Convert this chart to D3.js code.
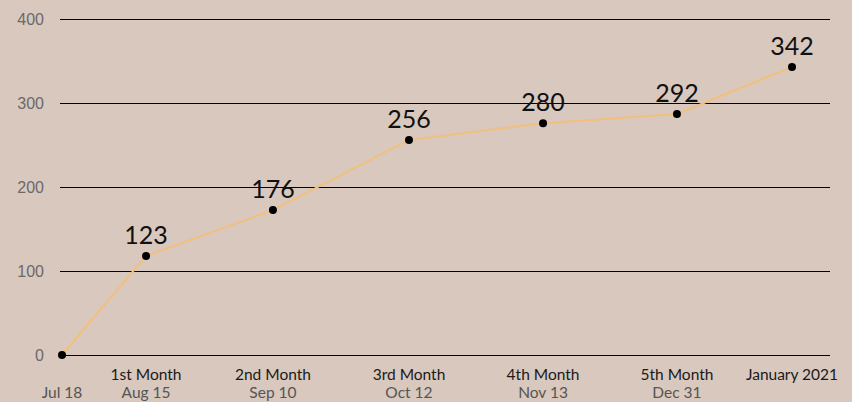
<!DOCTYPE html>
<html>
<head>
<meta charset="utf-8">
<style>
  body { margin: 0; background: #d9c8be; }
  svg { display: block; font-family: Lato, "Open Sans", sans-serif; }
  .grid line { stroke: #000; stroke-width: 1px; shape-rendering: crispEdges; }
  .ytick { fill: #6a6a6a; font-size: 16px; font-family: "Liberation Sans", Arial, sans-serif; }
  .xtop { fill: #1a1a1a; font-size: 15.5px; }
  .xbot { fill: #555; font-size: 15.5px; }
  .vlabel { fill: #111; font-size: 25px; }
</style>
</head>
<body>
<svg id="chart"></svg>
<script src="https://cdn.jsdelivr.net/npm/d3@7"></script>
<script>
// data
var milestones = ['', '1st Month', '2nd Month', '3rd Month', '4th Month', '5th Month', 'January 2021'];
var dates = ['Jul 18', 'Aug 15', 'Sep 10', 'Oct 12', 'Nov 13', 'Dec 31', ''];
var slots = [0, 0.632, 1.586, 2.609, 3.617, 4.624, 5.489];
var values = [0, 118, 172.5, 256, 276, 287, 343];
var valueLabels = ['', '123', '176', '256', '280', '292', '342'];
var yTicks = [0, 100, 200, 300, 400];

var width = 852, height = 402;
var svg = d3.select('#chart').attr('width', width).attr('height', height);

var x = d3.scaleLinear().domain([0, 5.489]).range([62, 792]);
var y = d3.scaleLinear().domain([0, 400]).range([355, 19]);

// horizontal grid
svg.append('g').attr('class', 'grid')
  .selectAll('line').data(yTicks)
  .enter().append('line')
    .attr('x1', 60).attr('x2', 830)
    .attr('y1', (d) => Math.round(y(d)) + 0.5).attr('y2', (d) => Math.round(y(d)) + 0.5);

svg.append('g')
  .selectAll('text').data(yTicks)
  .enter().append('text')
    .attr('class', 'ytick')
    .attr('x', 44)
    .attr('y', (d) => y(d) + 6)
    .attr('text-anchor', 'end')
    .text((d) => d);

var pts = values.map((v, i) => ({v: v, s: slots[i], label: valueLabels[i], top: milestones[i], bot: dates[i]}));

var line = d3.line().x((d) => x(d.s)).y((d) => y(d.v));
svg.append('path').datum(pts)
  .attr('d', line)
  .attr('fill', 'none')
  .attr('stroke', '#f2c07c')
  .attr('stroke-width', 2);

svg.append('g')
  .selectAll('circle').data(pts)
  .enter().append('circle')
    .attr('cx', (d) => x(d.s))
    .attr('cy', (d) => y(d.v))
    .attr('r', 4)
    .attr('fill', '#000');

svg.append('g')
  .selectAll('text').data(pts.filter((d) => d.label))
  .enter().append('text')
    .attr('class', 'vlabel')
    .attr('x', (d) => x(d.s))
    .attr('y', (d) => y(d.v) - 12)
    .attr('text-anchor', 'middle')
    .text((d) => d.label);

// x labels, two lines
var xl = svg.append('g').selectAll('g').data(pts)
  .enter().append('g')
    .attr('transform', (d) => 'translate(' + x(d.s) + ',0)');
xl.append('text')
  .attr('class', 'xtop')
  .attr('text-anchor', 'middle')
  .attr('y', 380)
  .text((d) => d.top);
xl.append('text')
  .attr('class', 'xbot')
  .attr('text-anchor', 'middle')
  .attr('y', 398)
  .text((d) => d.bot);
</script>
</body>
</html>
